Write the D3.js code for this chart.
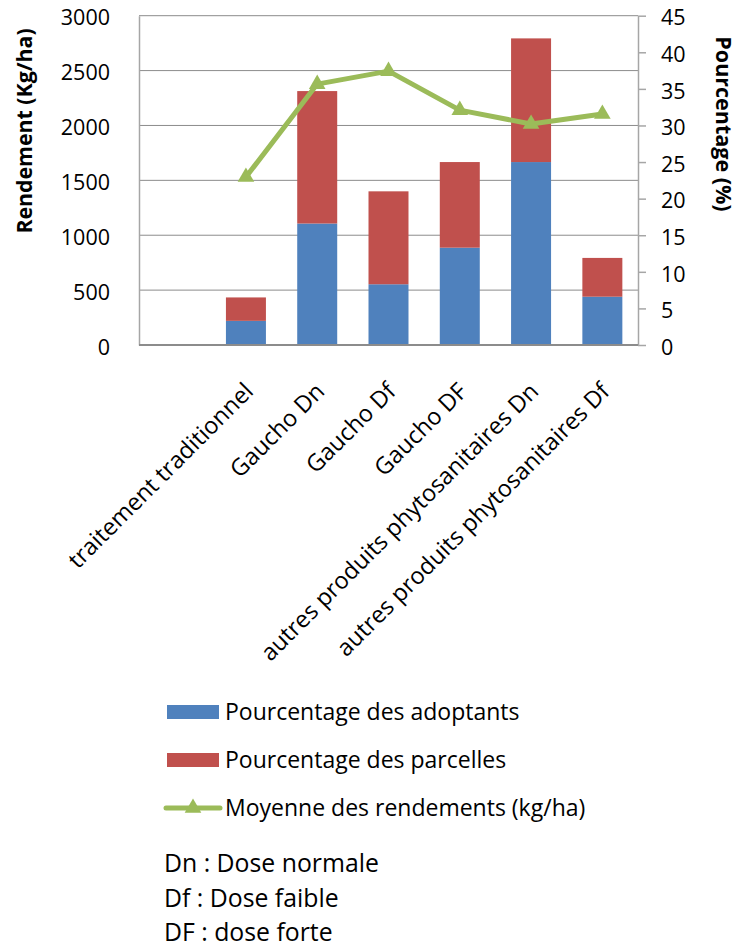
<!DOCTYPE html>
<html>
<head>
<meta charset="utf-8">
<script src="https://cdn.jsdelivr.net/npm/d3@7/dist/d3.min.js"></script>
<style>
  html, body { margin: 0; padding: 0; background: #fff; }
  svg { display: block; font-family: "Open Sans", sans-serif; }
</style>
</head>
<body>
<div id="chart"></div>
<script>
// categories and values
const categories = [
  'traitement traditionnel',
  'Gaucho Dn',
  'Gaucho Df',
  'Gaucho DF',
  'autres produits phytosanitaires Dn',
  'autres produits phytosanitaires Df'
];
const adoptants = [3.3, 16.6, 8.3, 13.3, 25.0, 6.6];      // % (right axis)
const parcelles = [3.2, 18.1, 12.7, 11.7, 16.9, 5.3];     // % (right axis)
const rendements = [1530, 2377, 2495, 2140, 2013, 2104];  // kg/ha (left axis)
const leftTicks = [0, 500, 1000, 1500, 2000, 2500, 3000];
const rightTicks = [0, 5, 10, 15, 20, 25, 30, 35, 40, 45];
const legendItems = [
  'Pourcentage des adoptants',
  'Pourcentage des parcelles',
  'Moyenne des rendements (kg/ha)'
];
const notes = ['Dn : Dose normale', 'Df : Dose faible', 'DF : dose forte'];

const width = 739, height = 948;
const plot = { left: 139, right: 638, top: 15.7, bottom: 345 };
const colors = { blue: '#4F81BD', red: '#C0504D', green: '#9BBB59', grid: '#8C8C8C', axis: '#A6A6A6' };

const svg = d3.select('#chart').append('svg')
  .attr('width', width)
  .attr('height', height)
  .attr('viewBox', `0 0 ${width} ${height}`);

// first slot of the category axis is left empty in the original
const x = d3.scaleBand()
  .domain([''].concat(categories))
  .range([plot.left, plot.right])
  .paddingInner(0.439)
  .paddingOuter(0.2195);

const yLeft = d3.scaleLinear().domain([0, 3000]).range([plot.bottom, plot.top]);
const yRight = d3.scaleLinear().domain([0, 45]).range([plot.bottom, plot.top]);

// gridlines
svg.append('g')
  .selectAll('line')
  .data(leftTicks.slice(1))
  .join('line')
  .attr('x1', plot.left).attr('x2', plot.right)
  .attr('y1', d => yLeft(d)).attr('y2', d => yLeft(d))
  .attr('stroke', colors.grid)
  .attr('stroke-width', 1);

// stacked bars
const rows = categories.map((c, i) => ({ cat: c, adoptants: adoptants[i], parcelles: parcelles[i] }));
const stacked = d3.stack().keys(['adoptants', 'parcelles'])(rows);
const barColors = [colors.blue, colors.red];

svg.append('g')
  .selectAll('g')
  .data(stacked)
  .join('g')
  .attr('fill', (d, i) => barColors[i])
  .selectAll('rect')
  .data(d => d)
  .join('rect')
  .attr('x', d => x(d.data.cat))
  .attr('width', x.bandwidth())
  .attr('y', d => yRight(d[1]))
  .attr('height', d => yRight(d[0]) - yRight(d[1]));

// axes
const leftAxis = d3.axisLeft(yLeft)
  .tickValues(leftTicks)
  .tickFormat(d3.format('d'))
  .tickSize(0)
  .tickPadding(29);
const gLeft = svg.append('g')
  .attr('transform', `translate(${plot.left},0)`)
  .call(leftAxis);
gLeft.select('.domain').attr('stroke', colors.axis).attr('stroke-width', 1.5);
gLeft.selectAll('text')
  .attr('font-family', '"Open Sans", sans-serif')
  .attr('font-size', 21.5)
  .attr('fill', '#000')
  .attr('dy', '0.43em');

const rightAxis = d3.axisRight(yRight).tickValues(rightTicks).tickSize(8).tickSizeOuter(0).tickPadding(15);
const gRight = svg.append('g')
  .attr('transform', `translate(${plot.right},0)`)
  .call(rightAxis);
gRight.select('.domain').attr('stroke', colors.axis).attr('stroke-width', 1.5);
gRight.selectAll('line').attr('stroke', colors.axis).attr('stroke-width', 1.5);
gRight.selectAll('text')
  .attr('font-family', '"Open Sans", sans-serif')
  .attr('font-size', 21.5)
  .attr('fill', '#000')
  .attr('dy', '0.43em');

// category axis
svg.append('line')
  .attr('x1', plot.left).attr('x2', plot.right)
  .attr('y1', plot.bottom).attr('y2', plot.bottom)
  .attr('stroke', colors.grid)
  .attr('stroke-width', 2);

svg.append('g')
  .selectAll('text')
  .data(categories)
  .join('text')
  .attr('transform', d => `translate(${x(d) + x.bandwidth() / 2 + 3},387) rotate(-45)`)
  .attr('text-anchor', 'end')
  .attr('dy', '0.35em')
  .attr('font-size', 23.5)
  .text(d => d);

// line of mean yields
const cx = d => x(d) + x.bandwidth() / 2;
const line = d3.line()
  .x((d, i) => cx(categories[i]))
  .y(d => yLeft(d));

svg.append('path')
  .datum(rendements)
  .attr('d', line)
  .attr('fill', 'none')
  .attr('stroke', colors.green)
  .attr('stroke-width', 5)
  .attr('stroke-linejoin', 'round');

const tri = d3.symbol().type(d3.symbolTriangle).size(120);
svg.append('g')
  .selectAll('path')
  .data(rendements)
  .join('path')
  .attr('transform', (d, i) => `translate(${cx(categories[i])},${yLeft(d)})`)
  .attr('d', tri)
  .attr('fill', colors.green);

// axis titles
svg.append('text')
  .attr('transform', 'translate(32,131) rotate(-90)')
  .attr('text-anchor', 'middle')
  .attr('font-size', 21.3)
  .attr('font-weight', 'bold')
  .text('Rendement (Kg/ha)');

svg.append('text')
  .attr('transform', 'translate(716,124) rotate(90)')
  .attr('text-anchor', 'middle')
  .attr('font-size', 21.5)
  .attr('font-weight', 'bold')
  .text('Pourcentage (%)');

// legend
const legend = svg.append('g');
const legendY = [712, 760, 808];

legend.selectAll('rect')
  .data(barColors)
  .join('rect')
  .attr('x', 167)
  .attr('y', (d, i) => legendY[i] - 7)
  .attr('width', 52)
  .attr('height', 14)
  .attr('fill', d => d);

legend.append('line')
  .attr('x1', 166).attr('x2', 220)
  .attr('y1', legendY[2]).attr('y2', legendY[2])
  .attr('stroke', colors.green)
  .attr('stroke-width', 5)
  .attr('stroke-linecap', 'round');
legend.append('path')
  .attr('transform', `translate(193,${legendY[2]})`)
  .attr('d', tri)
  .attr('fill', colors.green);

legend.selectAll('text')
  .data(legendItems)
  .join('text')
  .attr('x', 225)
  .attr('y', (d, i) => legendY[i] + 7.5)
  .attr('font-size', 23)
  .text(d => d);

svg.append('g')
  .selectAll('text')
  .data(notes)
  .join('text')
  .attr('x', 164)
  .attr('y', (d, i) => 872 + i * 34.5)
  .attr('font-size', 24.8)
  .text(d => d);
</script>
</body>
</html>
